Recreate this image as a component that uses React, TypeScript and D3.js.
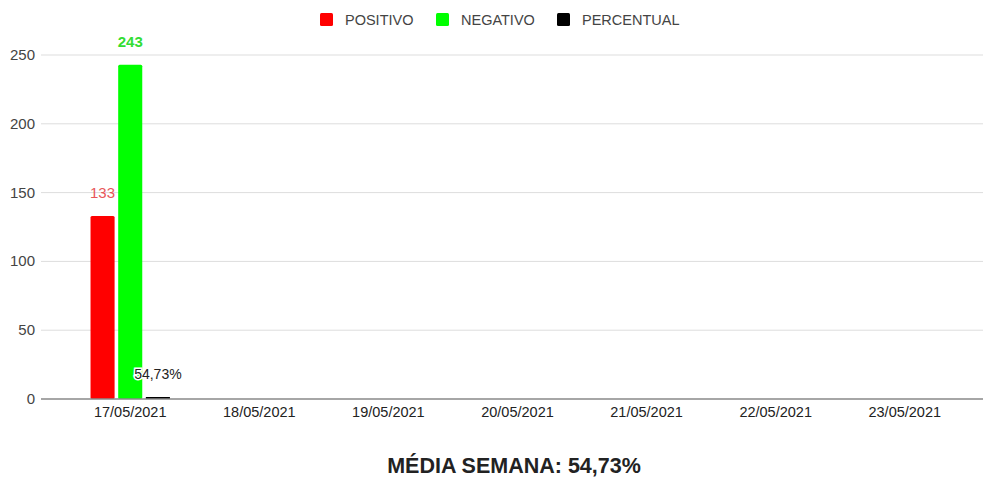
import React from "react";
import * as d3 from "d3";

const categories = ["17/05/2021", "18/05/2021", "19/05/2021", "20/05/2021", "21/05/2021", "22/05/2021", "23/05/2021"];
const seriesNames = ["POSITIVO", "NEGATIVO", "PERCENTUAL"];
const seriesColors = ["#ff0000", "#00ff00", "#000000"];
const labelColors = ["#e8555a", "#33dd33", "#222222"];
const positivo: (number | null)[] = [133, null, null, null, null, null, null];
const negativo: (number | null)[] = [243, null, null, null, null, null, null];
const percentual: (number | null)[] = [0.5473, null, null, null, null, null, null];
const valueLabels: (string | null)[][] = [
  ["133", null, null, null, null, null, null],
  ["243", null, null, null, null, null, null],
  ["54,73%", null, null, null, null, null, null],
];
const yTicks = [0, 50, 100, 150, 200, 250];
const title = "MÉDIA SEMANA: 54,73%";

const W = 983, H = 480;
const FONT = "'Liberation Sans', Arial, sans-serif";

export default function App() {
  const series = [positivo, negativo, percentual];
  const y = d3.scaleLinear().domain([0, 250]).range([399, 55]);
  const x = d3.scaleBand().domain(categories).range([66, 969]).paddingInner(0.385).paddingOuter(0.19);
  const inner = d3.scaleBand().domain(seriesNames).range([0, x.bandwidth()]).paddingInner(0.13);
  const gridX0 = 41, gridX1 = 983;
  const legendX = [320, 436, 557];

  return (
    <svg width={W} height={H} style={{ position: "absolute", left: 0, top: 0, background: "#fff" }} fontFamily={FONT}>
      {/* legend */}
      {seriesNames.map((s, i) => (
        <g key={s}>
          <rect x={legendX[i]} y={13} width={13} height={13} rx={1.5} fill={seriesColors[i]} />
          <text x={legendX[i] + 25} y={25} fontSize={14.5} fill="#444">{s}</text>
        </g>
      ))}
      {/* grid */}
      {yTicks.map((t) => (
        <g key={t}>
          {t !== 0 && <line x1={gridX0} x2={gridX1} y1={y(t)} y2={y(t)} stroke="#dddddd" strokeWidth={1} />}
          <text x={35} y={y(t) + 5} fontSize={15} fill="#444" textAnchor="end">{t}</text>
        </g>
      ))}
      {/* bars */}
      {series.map((vals, si) =>
        vals.map((v, ci) => {
          if (v == null) return null;
          const bx = (x(categories[ci]) as number) + (inner(seriesNames[si]) as number);
          const bw = inner.bandwidth();
          const top = Math.min(y(v), y(0) - 2);
          return (
            <rect key={`${si}-${ci}`} x={bx} y={top} width={bw} height={y(0) - top} fill={seriesColors[si]} rx={si < 2 ? 1.5 : 0} />
          );
        })
      )}
      {/* value labels */}
      {series.map((vals, si) =>
        vals.map((v, ci) => {
          const lab = valueLabels[si][ci];
          if (v == null || lab == null) return null;
          const bx = (x(categories[ci]) as number) + (inner(seriesNames[si]) as number) + inner.bandwidth() / 2;
          const ty = Math.min(y(v), y(0) - 2) - 18;
          return (
            <text key={`l${si}-${ci}`} x={bx} y={ty} fontSize={si === 2 ? 14 : 15} fill={labelColors[si]} textAnchor="middle"
              fontWeight={si === 1 ? "bold" : "normal"}
              stroke="#fff" strokeWidth={si === 2 ? 3 : 0} paintOrder="stroke">{lab}</text>
          );
        })
      )}
      {/* baseline */}
      <line x1={gridX0} x2={gridX1} y1={y(0)} y2={y(0)} stroke="#888" strokeWidth={1.3} />
      {/* x labels */}
      {categories.map((c) => (
        <text key={c} x={(x(c) as number) + x.bandwidth() / 2} y={417} fontSize={14.5} fill="#222" textAnchor="middle">{c}</text>
      ))}
      <text x={514} y={473} fontSize={21.5} fontWeight="bold" fill="#222" textAnchor="middle">{title}</text>
    </svg>
  );
}
